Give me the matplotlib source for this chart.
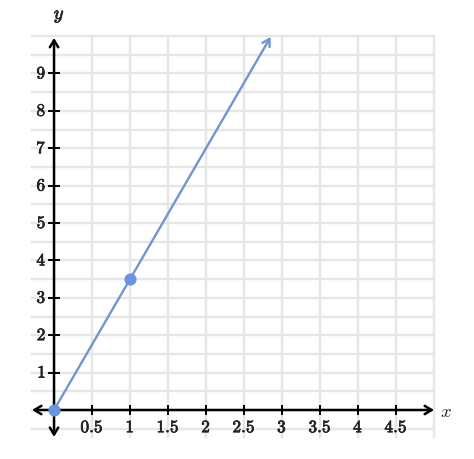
import numpy as np
import matplotlib.pyplot as plt
import matplotlib.patheffects as pe

plt.rcParams['mathtext.fontset'] = 'cm'

# data
pts_x = [0, 1]
pts_y = [0, 3.5]
line_end_x = 2.85
xtick_vals = [0.5, 1, 1.5, 2, 2.5, 3, 3.5, 4, 4.5]
xtick_labels = ['0.5', '1', '1.5', '2', '2.5', '3', '3.5', '4', '4.5']
ytick_vals = [1, 2, 3, 4, 5, 6, 7, 8, 9]

slope = pts_y[1] / pts_x[1]

fig = plt.figure(figsize=(4.74, 4.60), dpi=100)
ax = fig.add_axes([0, 0, 1, 1])
ax.set_xlim(-0.711, 5.526)
ax.set_ylim(-1.31, 10.99)
ax.axis('off')

grid_x0, grid_x1 = -0.29, 5.0
grid_y0, grid_y1 = -0.72, 10.0
gc = '#e6e6e6'
for gx in np.arange(0.5, 5.01, 0.5):
    ax.plot([gx, gx], [grid_y0, grid_y1], color=gc, lw=1.7, zorder=1)
for gy in np.arange(-0.5, 10.01, 0.5):
    ax.plot([grid_x0, grid_x1], [gy, gy], color=gc, lw=1.7, zorder=1)

# axes with arrows
arr = dict(arrowstyle='<->,head_length=0.5,head_width=0.3', color='black', lw=1.8,
           shrinkA=0, shrinkB=0)
ax.annotate('', xy=(5.0, 0), xytext=(-0.29, 0), arrowprops=arr, zorder=3)
ax.annotate('', xy=(0, 9.95), xytext=(0, -0.72), arrowprops=arr, zorder=3)

thick = [pe.withStroke(linewidth=0.5, foreground='#222222')]

# ticks
for tx, tl in zip(xtick_vals, xtick_labels):
    ax.plot([tx, tx], [-0.12, 0.12], color='black', lw=1.4, zorder=3)
    ax.text(tx, -0.22, '$' + tl + '$', ha='center', va='top', fontsize=12.5,
            color='#222222', path_effects=thick, zorder=4)
for ty in ytick_vals:
    ax.plot([-0.07, 0.06], [ty, ty], color='black', lw=1.4, zorder=3)
    ax.text(-0.1, ty, '$' + str(ty) + '$', ha='right', va='center', fontsize=12.5,
            color='#222222', path_effects=thick, zorder=4)

ax.text(5.16, 0, '$x$', ha='center', va='center', fontsize=13.5, color='#222222')
ax.text(0.07, 10.55, '$y$', ha='center', va='center', fontsize=13.5, color='#222222',
        path_effects=thick)

# line with arrow
lc = '#7096d2'
ax.annotate('', xy=(line_end_x, slope * line_end_x), xytext=(0, 0),
            arrowprops=dict(arrowstyle='->,head_length=0.5,head_width=0.3', color=lc,
                            lw=1.7, shrinkA=0, shrinkB=0), zorder=5)
ax.scatter(pts_x, pts_y, s=60, color='#6a93e0', zorder=6)

fig.savefig('out.png', dpi=100)
